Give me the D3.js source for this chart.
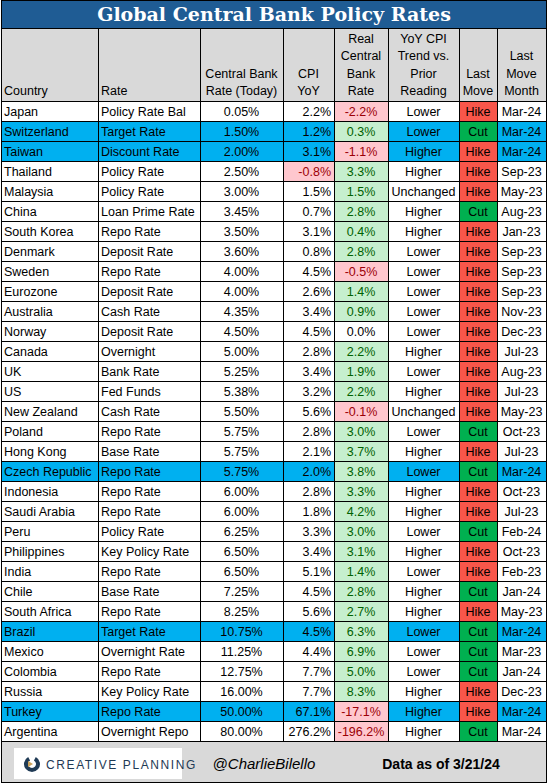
<!DOCTYPE html>
<html><head><meta charset="utf-8">
<script src="https://cdn.jsdelivr.net/npm/d3@7"></script>
<style>body{margin:0;background:#fff}</style></head>
<body><svg id="c" width="548" height="783"></svg>
<script>
const countries=["Japan","Switzerland","Taiwan","Thailand","Malaysia","China","South Korea","Denmark","Sweden","Eurozone","Australia","Norway","Canada","UK","US","New Zealand","Poland","Hong Kong","Czech Republic","Indonesia","Saudi Arabia","Peru","Philippines","India","Chile","South Africa","Brazil","Mexico","Colombia","Russia","Turkey","Argentina"];
const rateNames=["Policy Rate Bal","Target Rate","Discount Rate","Policy Rate","Policy Rate","Loan Prime Rate","Repo Rate","Deposit Rate","Repo Rate","Deposit Rate","Cash Rate","Deposit Rate","Overnight","Bank Rate","Fed Funds","Cash Rate","Repo Rate","Base Rate","Repo Rate","Repo Rate","Repo Rate","Policy Rate","Key Policy Rate","Repo Rate","Base Rate","Repo Rate","Target Rate","Overnight Rate","Repo Rate","Key Policy Rate","Repo Rate","Overnight Repo"];
const cbRate=[0.05,1.50,2.00,2.50,3.00,3.45,3.50,3.60,4.00,4.00,4.35,4.50,5.00,5.25,5.38,5.50,5.75,5.75,5.75,6.00,6.00,6.25,6.50,6.50,7.25,8.25,10.75,11.25,12.75,16.00,50.00,80.00];
const cpi=[2.2,1.2,3.1,-0.8,1.5,0.7,3.1,0.8,4.5,2.6,3.4,4.5,2.8,3.4,3.2,5.6,2.8,2.1,2.0,2.8,1.8,3.3,3.4,5.1,4.5,5.6,4.5,4.4,7.7,7.7,67.1,276.2];
const realRate=[-2.2,0.3,-1.1,3.3,1.5,2.8,0.4,2.8,-0.5,1.4,0.9,0.0,2.2,1.9,2.2,-0.1,3.0,3.7,3.8,3.3,4.2,3.0,3.1,1.4,2.8,2.7,6.3,6.9,5.0,8.3,-17.1,-196.2];
const trend=["Lower","Lower","Higher","Higher","Unchanged","Higher","Higher","Lower","Lower","Lower","Lower","Lower","Higher","Lower","Higher","Unchanged","Lower","Higher","Lower","Higher","Higher","Lower","Higher","Lower","Higher","Higher","Lower","Lower","Lower","Higher","Higher","Higher"];
const lastMove=["Hike","Cut","Hike","Hike","Hike","Cut","Hike","Hike","Hike","Hike","Hike","Hike","Hike","Hike","Hike","Hike","Cut","Hike","Cut","Hike","Hike","Cut","Hike","Hike","Cut","Hike","Cut","Cut","Cut","Hike","Hike","Cut"];
const moveMonth=["Mar-24","Mar-24","Mar-24","Sep-23","May-23","Aug-23","Jan-23","Sep-23","Sep-23","Sep-23","Nov-23","Dec-23","Jul-23","Aug-23","Jul-23","May-23","Oct-23","Jul-23","Mar-24","Oct-23","Jul-23","Feb-24","Oct-23","Feb-23","Jan-24","May-23","Mar-24","Mar-23","Jan-24","Dec-23","Mar-24","Mar-24"];
const highlighted=["Switzerland","Taiwan","Czech Republic","Brazil","Turkey"];
const headers=[["Country"],["Rate"],["Central Bank","Rate (Today)"],["CPI","YoY"],["Real","Central","Bank","Rate"],["YoY CPI","Trend vs.","Prior","Reading"],["Last","Move"],["Last","Move","Month"]];

const svg=d3.select("#c");
const F="'Liberation Sans',Arial,sans-serif";
const edges=[1,98,200,283,334,388,459,497,546];
const y=d3.scaleBand().domain(d3.range(countries.length)).range([101,741]);
const rh=y.bandwidth();

svg.append("rect").attr("x",0).attr("y",0).attr("width",548).attr("height",783).attr("fill","#fff");
svg.append("rect").attr("x",1).attr("y",1).attr("width",545).attr("height",27).attr("fill","#1f5c94");
svg.append("text").attr("x",274).attr("y",21).attr("text-anchor","middle").attr("fill","#fff")
 .attr("font-family","'DejaVu Serif','Liberation Serif',serif").attr("font-weight","bold").attr("font-size",19).text("Global Central Bank Policy Rates");
svg.append("rect").attr("x",1).attr("y",28).attr("width",545).attr("height",73).attr("fill","#d9d9d9");
headers.forEach((h,i)=>{
  const left=i<2; const x=left?edges[i]+3:(edges[i]+edges[i+1])/2;
  h.forEach((t,j)=>svg.append("text").attr("x",x).attr("y",95-(h.length-1-j)*17.5).attr("text-anchor",left?"start":"middle")
   .attr("font-family",F).attr("font-size",12.5).attr("fill","#000").text(t));
});

const g=svg.append("g");
countries.forEach((c,i)=>{
  const y0=y(i), hl=highlighted.includes(c);
  const base=hl?"#00b0f0":"#fff";
  g.append("rect").attr("x",1).attr("y",y0).attr("width",545).attr("height",rh).attr("fill",base);
  const rr=realRate[i];
  if(rr!==0) g.append("rect").attr("x",edges[4]).attr("y",y0).attr("width",edges[5]-edges[4]).attr("height",rh).attr("fill",rr<0?"#ffc7ce":"#c6efce");
  if(cpi[i]<0) g.append("rect").attr("x",edges[3]).attr("y",y0).attr("width",edges[4]-edges[3]).attr("height",rh).attr("fill","#ffc7ce");
  g.append("rect").attr("x",edges[6]).attr("y",y0).attr("width",edges[7]-edges[6]).attr("height",rh).attr("fill",lastMove[i]==="Hike"?"#f8564a":"#00b050");
  const cells=[[c,"s"],[rateNames[i],"s"],[cbRate[i].toFixed(2)+"%","m"],[cpi[i].toFixed(1)+"%","r"],[rr.toFixed(1)+"%","m"],[trend[i],"m"],[lastMove[i],"m"],[moveMonth[i],"m"]];
  cells.forEach(([t,a],k)=>{
    let x=a==="s"?edges[k]+3:a==="r"?edges[k+1]-3:(edges[k]+edges[k+1])/2;
    let fill="#000"; if(k===4&&rr<0)fill="#9c0006"; else if(k===4&&rr>0)fill="#006100";
    if(k===3&&cpi[i]<0)fill="#9c0006";
    g.append("text").attr("x",x).attr("y",y0+15).attr("text-anchor",a==="s"?"start":a==="r"?"end":"middle")
     .attr("font-family",F).attr("font-size",12.5).attr("fill",fill).text(t);
  });
});
const lines=svg.append("g").attr("stroke","#000").attr("stroke-width",1);
edges.forEach(e=>lines.append("line").attr("x1",e+0.5).attr("x2",e+0.5).attr("y1",28).attr("y2",741));
lines.append("line").attr("x1",1).attr("x2",547).attr("y1",28.5).attr("y2",28.5);
d3.range(countries.length+1).forEach(i=>{const yy=i<countries.length?y(i):741;lines.append("line").attr("x1",1).attr("x2",547).attr("y1",yy+0.5).attr("y2",yy+0.5);});
svg.append("rect").attr("x",1).attr("y",742).attr("width",545).attr("height",40).attr("fill","#d9d9d9");
svg.append("rect").attr("x",1.5).attr("y",0.5).attr("width",545).attr("height",782).attr("fill","none").attr("stroke","#000");
svg.append("rect").attr("x",14).attr("y",748).attr("width",168).attr("height",31).attr("fill","#fff");
const lg=svg.append("g").attr("transform","translate(32,764)");
lg.append("path").attr("d",d3.arc()({innerRadius:4,outerRadius:8,startAngle:0.5,endAngle:Math.PI*2-0.5})).attr("fill","#1f3a55");
lg.append("path").attr("d","M-4,-3 L1,0 L-4,3 Z").attr("fill","#c9a15a");
svg.append("text").attr("x",46).attr("y",769).attr("font-family",F).attr("font-size",12).attr("letter-spacing",1.6).attr("fill","#1f3a55").text("CREATIVE PLANNING");
svg.append("text").attr("x",264).attr("y",769).attr("text-anchor","middle").attr("font-family",F).attr("font-style","italic").attr("font-size",15).attr("fill","#000").text("@CharlieBilello");
svg.append("text").attr("x",441).attr("y",769).attr("text-anchor","middle").attr("font-family",F).attr("font-weight","bold").attr("font-size",14).attr("fill","#000").text("Data as of 3/21/24");
</script></body></html>
